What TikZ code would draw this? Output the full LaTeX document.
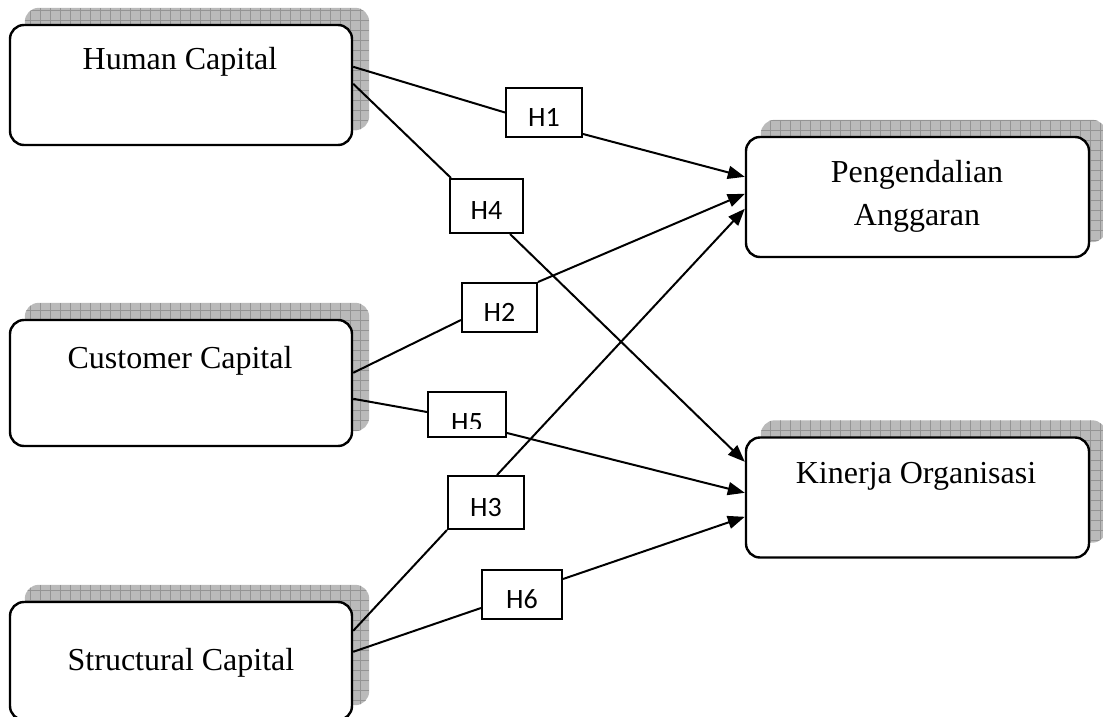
\documentclass[tikz,border=0pt]{standalone}
\usepackage{fontspec}
\setmainfont{Liberation Serif}
\newfontfamily\calibri{Carlito}
\usetikzlibrary{arrows.meta,calc,backgrounds}
\begin{document}
\begin{tikzpicture}[x=1pt,y=-1pt,
  bigbox/.style={draw=black, line width=2.4pt, fill=white, rounded corners=14pt, minimum width=342pt, minimum height=120pt, inner sep=0pt},
  bigtext/.style={font=\fontsize{32}{43}\selectfont, anchor=base, inner sep=0pt},
  hbox/.style={draw=black, line width=2pt, fill=white, inner sep=0pt, font=\calibri\fontsize{28}{33}\selectfont, text height=27pt, text depth=0pt},
  htext/.style={font=\calibri\fontsize{28}{33}\selectfont, anchor=base, inner sep=0pt},
  conn/.style={line width=2pt},
  arr/.style={conn, -{Triangle[length=17pt,width=13pt]}},
  shadowfill/.style={fill=black!27, rounded corners=14pt},
]
\useasboundingbox (0,0) rectangle (1103,717);

% main boxes
\node[bigbox] (hc) at (181,85) {};
\node[bigbox, minimum height=126pt] (cc) at (181,383) {};
\node[bigbox, minimum height=118pt] (sc) at (181,661) {};
\node[bigbox, minimum width=343pt] (pa) at (917.5,197) {};
\node[bigbox, minimum width=343pt] (ko) at (917.5,497.5) {};

% texts
\node[bigtext] (hcT) at (180,70) {Human Capital};
\node[bigtext] (ccT) at (180,368) {Customer Capital};
\node[bigtext] (scT) at (181,670) {Structural Capital};
\node[bigtext] (paT1) at (917,182) {Pengendalian};
\node[bigtext] (paT2) at (917,225) {Anggaran};
\node[bigtext] (koT) at (916,483) {Kinerja Organisasi};

% shadows
\begin{scope}[on background layer]
\foreach \n in {hc,cc,sc,pa,ko}{
  \begin{scope}
    \path[shadowfill] ($(\n.south west)+(16,-16)$) rectangle ($(\n.north east)+(16,-16)$);
    \clip[rounded corners=14pt] ($(\n.south west)+(16,-16)$) rectangle ($(\n.north east)+(16,-16)$);
    \draw[black!42, line width=0.6pt] ($(\n.south west)+(16,-16)$) grid[step=10pt] ($(\n.north east)+(16,-16)$);
  \end{scope}
}
\end{scope}

% hypothesis boxes
\node[hbox, minimum width=76pt, minimum height=49pt] (h1) at (544,112.5) {H1};
\node[hbox, minimum width=73pt, minimum height=54pt] (h4) at (486.5,206) {H4};
\node[hbox, minimum width=75pt, minimum height=49pt] (h2) at (499.5,307.5) {H2};
\node[hbox, minimum width=78pt, minimum height=45pt] (h5) at (467,414.5) {};
\node[hbox, minimum width=76pt, minimum height=53pt] (h3) at (486,502.5) {H3};
\node[hbox, minimum width=80pt, minimum height=49pt] (h6) at (522,594.5) {H6};
\begin{scope}
  \clip (h5.north west) rectangle ($(h5.south east)+(0,-10)$);
  \node[htext] (h5T) at (467,431) {H5};
\end{scope}

% connectors
\draw[conn] ($(hc.north east)+(0,43)$) -- (h1.west);
\draw[arr] ($(h1.south east)+(0,-4)$) -- ($(pa.north west)+(0,41)$);

\draw[conn] ($(hc.north east)+(0,60)$) -- ($(h4.north west)+(2,0)$);
\draw[arr] ($(h4.south)+(23.5,0)$) -- ($(ko.north west)+(0,25.5)$);

\draw[conn] ($(cc.north east)+(0,54)$) -- ($(h2.west)+(0,12.5)$);
\draw[arr] (h2.north east) -- ($(pa.north west)+(0,58)$);

\draw[conn] ($(cc.north east)+(0,80)$) -- ($(h5.west)+(0,-2.5)$);
\draw[arr] ($(h5.south east)+(0,-5)$) -- ($(ko.north west)+(0,56.5)$);

\draw[conn] ($(sc.north east)+(0,30)$) -- (h3.south west);
\draw[arr] ($(h3.north)+(11,0)$) -- ($(pa.north west)+(0,73)$);

\draw[conn] ($(sc.north east)+(0,51)$) -- ($(h6.west)+(0,13.5)$);
\draw[arr] ($(h6.north east)+(0,10)$) -- ($(ko.north west)+(0,80.5)$);
\end{tikzpicture}
\end{document}
